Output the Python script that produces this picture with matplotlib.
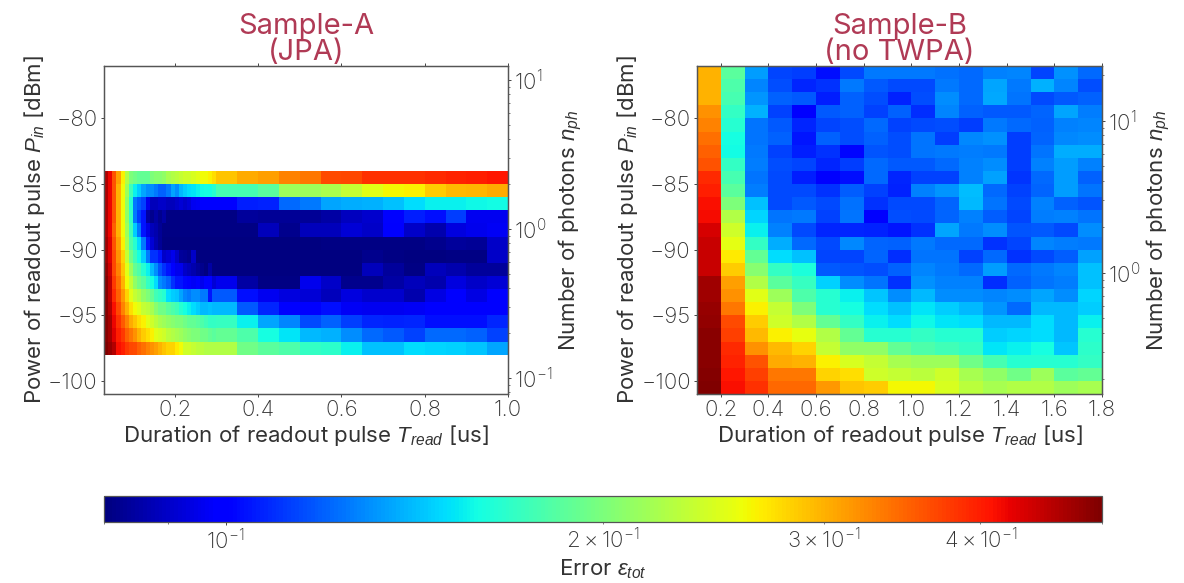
import matplotlib
matplotlib.use("Agg")
import matplotlib.pyplot as plt
import numpy as np
from matplotlib.colors import LogNorm

plt.rcParams['font.family'] = ['Inter', 'DejaVu Sans']
plt.rcParams['font.weight'] = 'light'
plt.rcParams['mathtext.fontset'] = 'custom'
plt.rcParams['mathtext.rm'] = 'Liberation Sans'
plt.rcParams['mathtext.it'] = 'Liberation Sans:italic'
plt.rcParams['mathtext.bf'] = 'Liberation Sans:bold'

# Sample-A: pulse duration edges [us], power edges [dBm]
t_a = [0.03, 0.04, 0.05, 0.06, 0.07, 0.08, 0.09, 0.10, 0.11, 0.12, 0.13, 0.14, 0.15, 0.16,
       0.17, 0.18, 0.19, 0.20, 0.21, 0.22, 0.23, 0.24, 0.25, 0.26, 0.27, 0.28, 0.29, 0.30,
       0.35, 0.40, 0.45, 0.50, 0.55, 0.60, 0.65, 0.70, 0.75, 0.80, 0.85, 0.90, 0.95, 1.00]
p_a = [-84, -85, -86, -87, -88, -89, -90, -91, -92, -93, -94, -95, -96, -97, -98]
err_a = [
    [.46, .42, .36, .31, .265, .225, .20, .195, .19, .19, .19, .20, .205, .205, .21, .22, .225, .23, .235, .24, .24, .245, .25, .26, .26, .265, .275, .29, .305, .31, .33, .335, .365, .37, .385, .385, .385, .39, .395, .40, .405],
    [.46, .42, .36, .30, .26, .215, .175, .155, .145, .135, .13, .13, .125, .12, .12, .125, .135, .13, .14, .145, .15, .152, .155, .158, .16, .16, .165, .178, .178, .185, .215, .215, .222, .235, .25, .262, .265, .285, .295, .298, .305],
    [.46, .42, .36, .30, .26, .21, .165, .125, .118, .113, .095, .088, .088, .09, .09, .088, .088, .09, .092, .09, .092, .096, .097, .098, .098, .098, .099, .10, .106, .107, .122, .125, .135, .137, .138, .142, .15, .155, .155, .157, .158],
    [.46, .42, .36, .30, .26, .21, .17, .125, .112, .105, .085, .082, .085, .082, .085, .081, .081, .081, .081, .081, .081, .081, .081, .081, .081, .081, .081, .081, .084, .083, .083, .083, .085, .089, .091, .101, .106, .103, .112, .096, .096],
    [.46, .42, .35, .30, .26, .215, .175, .145, .125, .105, .094, .088, .086, .083, .081, .081, .081, .081, .081, .081, .081, .081, .081, .081, .081, .081, .081, .081, .081, .088, .082, .088, .088, .092, .09, .098, .09, .086, .093, .095, .097],
    [.47, .43, .36, .31, .265, .22, .18, .165, .15, .125, .105, .092, .087, .083, .08, .08, .08, .08, .08, .08, .08, .08, .08, .08, .08, .08, .08, .08, .08, .08, .08, .08, .081, .081, .081, .081, .081, .082, .084, .083, .09],
    [.47, .43, .37, .32, .28, .235, .195, .175, .16, .145, .125, .11, .11, .105, .09, .092, .095, .09, .084, .083, .082, .09, .08, .08, .08, .08, .08, .08, .08, .08, .08, .08, .08, .08, .082, .081, .08, .08, .081, .081, .09],
    [.48, .44, .37, .33, .29, .25, .215, .19, .18, .165, .155, .14, .13, .117, .11, .105, .098, .095, .095, .09, .088, .086, .084, .082, .08, .085, .08, .08, .08, .08, .08, .08, .08, .08, .088, .084, .081, .088, .086, .084, .084],
    [.49, .45, .38, .34, .30, .26, .235, .21, .195, .185, .17, .16, .15, .13, .125, .12, .11, .105, .105, .102, .10, .097, .098, .095, .098, .098, .092, .095, .085, .081, .081, .095, .09, .082, .082, .085, .088, .086, .093, .09, .092],
    [.49, .45, .39, .35, .315, .28, .25, .235, .225, .21, .20, .19, .175, .17, .165, .15, .145, .143, .135, .128, .125, .13, .13, .125, .125, .105, .118, .118, .103, .096, .093, .092, .088, .093, .091, .091, .086, .094, .10, .094, .098],
    [.49, .46, .41, .37, .33, .30, .275, .26, .25, .235, .23, .22, .205, .195, .195, .185, .18, .175, .165, .16, .155, .15, .145, .14, .14, .142, .14, .14, .118, .108, .098, .098, .103, .097, .096, .096, .097, .098, .10, .10, .10],
    [.49, .47, .42, .385, .355, .33, .305, .29, .275, .265, .25, .24, .23, .22, .215, .21, .205, .20, .20, .195, .19, .19, .185, .18, .175, .17, .17, .172, .155, .135, .128, .115, .12, .112, .108, .107, .108, .103, .103, .103, .108],
    [.49, .47, .43, .40, .38, .35, .335, .32, .30, .285, .275, .265, .25, .245, .24, .23, .225, .22, .215, .21, .205, .20, .20, .195, .195, .19, .185, .19, .18, .16, .152, .14, .138, .13, .122, .118, .113, .122, .122, .12, .113],
    [.50, .48, .46, .41, .40, .38, .37, .365, .35, .34, .33, .32, .31, .30, .29, .28, .28, .27, .26, .24, .24, .235, .23, .23, .225, .225, .225, .225, .195, .185, .18, .17, .168, .155, .142, .142, .15, .148, .146, .143, .135],
]

# Sample-B
t_b = [0.1, 0.2, 0.3, 0.4, 0.5, 0.6, 0.7, 0.8, 0.9, 1.0, 1.1, 1.2, 1.3, 1.4, 1.5, 1.6, 1.7, 1.8]
p_b = [-76, -77, -78, -79, -80, -81, -82, -83, -84, -85, -86, -87, -88, -89, -90, -91, -92,
       -93, -94, -95, -96, -97, -98, -99, -100, -101]
err_b = [
    [.300, .185, .133, .114, .112, .103, .115, .125, .125, .125, .123, .122, .127, .128, .114, .131, .122],
    [.300, .180, .128, .116, .108, .110, .125, .118, .115, .115, .125, .122, .135, .125, .138, .128, .116],
    [.300, .178, .132, .120, .118, .106, .120, .116, .107, .116, .130, .122, .136, .124, .115, .118, .120],
    [.320, .170, .138, .113, .100, .118, .120, .113, .120, .109, .128, .120, .118, .118, .121, .135, .126],
    [.330, .165, .124, .118, .108, .114, .116, .122, .113, .115, .116, .112, .125, .122, .120, .127, .128],
    [.340, .160, .124, .120, .105, .120, .116, .120, .116, .124, .112, .129, .131, .112, .121, .129, .130],
    [.350, .158, .125, .113, .106, .110, .102, .117, .116, .124, .125, .126, .125, .112, .124, .137, .137],
    [.360, .170, .126, .116, .114, .108, .112, .122, .118, .118, .122, .127, .130, .112, .127, .133, .127],
    [.390, .178, .124, .115, .106, .098, .103, .122, .108, .113, .113, .127, .134, .111, .122, .133, .120],
    [.400, .185, .126, .115, .115, .110, .119, .113, .107, .127, .132, .141, .122, .113, .121, .133, .124],
    [.410, .200, .142, .115, .118, .115, .123, .110, .115, .115, .121, .140, .124, .115, .127, .120, .117],
    [.415, .225, .148, .124, .125, .113, .124, .100, .116, .115, .121, .127, .119, .114, .126, .127, .124],
    [.435, .240, .155, .127, .115, .108, .108, .107, .105, .110, .135, .125, .130, .117, .118, .115, .130],
    [.445, .252, .170, .137, .122, .115, .129, .121, .120, .125, .122, .122, .110, .114, .128, .126, .125],
    [.445, .270, .190, .150, .142, .114, .114, .121, .109, .124, .124, .113, .122, .110, .115, .119, .134],
    [.445, .285, .205, .170, .162, .118, .117, .116, .120, .128, .125, .122, .133, .122, .125, .128, .142],
    [.475, .310, .225, .185, .172, .146, .130, .124, .110, .131, .127, .127, .109, .120, .124, .126, .142],
    [.475, .320, .250, .215, .180, .165, .155, .143, .130, .140, .130, .130, .128, .130, .135, .130, .148],
    [.480, .335, .265, .235, .200, .165, .160, .150, .142, .152, .145, .140, .132, .122, .140, .140, .145],
    [.485, .365, .285, .240, .225, .190, .170, .155, .150, .157, .152, .150, .140, .140, .150, .140, .155],
    [.490, .375, .295, .265, .255, .225, .190, .165, .165, .170, .165, .165, .145, .148, .150, .140, .165],
    [.490, .390, .320, .295, .280, .235, .210, .210, .190, .180, .175, .170, .152, .155, .160, .143, .168],
    [.490, .395, .360, .305, .300, .265, .245, .235, .220, .215, .215, .195, .178, .165, .165, .165, .170],
    [.495, .405, .375, .335, .335, .280, .275, .240, .235, .230, .240, .220, .210, .195, .215, .185, .190],
    [.500, .410, .385, .345, .345, .315, .290, .285, .262, .262, .245, .230, .220, .225, .225, .215, .220],
]

err_min, err_max = 0.08, 0.5
title_color = '#b03a55'
text_color = '#333333'
W, H = 1184, 583


def box(x0, y0, x1, y1):
    return [x0 / W, 1 - y1 / H, (x1 - x0) / W, (y1 - y0) / H]


def style_ax(ax):
    for s in ax.spines.values():
        s.set_color('#555555')
        s.set_linewidth(0.9)
    ax.tick_params(which='both', colors='#444444', labelcolor=text_color, labelsize=16,
                   length=2.5, width=0.7, pad=2)
    ax.tick_params(which='minor', length=1.5, width=0.5)


def panel(pos, t, p, err, xticks, xlim, n_lim, title):
    ax = fig.add_axes(box(*pos))
    mesh = ax.pcolormesh(t, p, np.array(err), cmap='jet', norm=norm, shading='flat')
    ax.set_xlim(*xlim)
    ax.set_ylim(-101, -76)
    ax.set_xticks(xticks)
    ax.set_yticks([-100, -95, -90, -85, -80])
    ax.tick_params(top=True)
    ax.set_xlabel(r'Duration of readout pulse $T_{read}$ [us]', fontsize=16, color=text_color, labelpad=2)
    ax.set_ylabel(r'Power of readout pulse $P_{in}$ [dBm]', fontsize=16, color=text_color, labelpad=1)
    ax.set_title(title, fontsize=21, color=title_color, pad=-8, linespacing=0.95)
    style_ax(ax)
    ax2 = ax.twinx()
    ax2.set_yscale('log')
    ax2.set_ylim(*n_lim)
    ax2.set_ylabel(r'Number of photons $n_{ph}$', fontsize=16, color=text_color, labelpad=3)
    style_ax(ax2)
    return mesh


fig = plt.figure(figsize=(11.84, 5.83), dpi=100)
norm = LogNorm(vmin=err_min, vmax=err_max)

mesh = panel((104, 66, 508, 394), t_a, p_a, err_a, [0.2, 0.4, 0.6, 0.8, 1.0], (0.03, 1.0),
             (0.0781, 12.4), 'Sample-A\n(JPA)')
panel((697, 66, 1102, 394), t_b, p_b, err_b, [0.2, 0.4, 0.6, 0.8, 1.0, 1.2, 1.4, 1.6, 1.8], (0.1, 1.8),
      (0.159, 22.9), 'Sample-B\n(no TWPA)')

cax = fig.add_axes(box(104, 496, 1102, 522))
cbar = fig.colorbar(mesh, cax=cax, orientation='horizontal')
cbar.set_label(r'Error $\epsilon_{tot}$', fontsize=16, color=text_color, labelpad=3)
style_ax(cax)

plt.savefig('out.png', dpi=100)
